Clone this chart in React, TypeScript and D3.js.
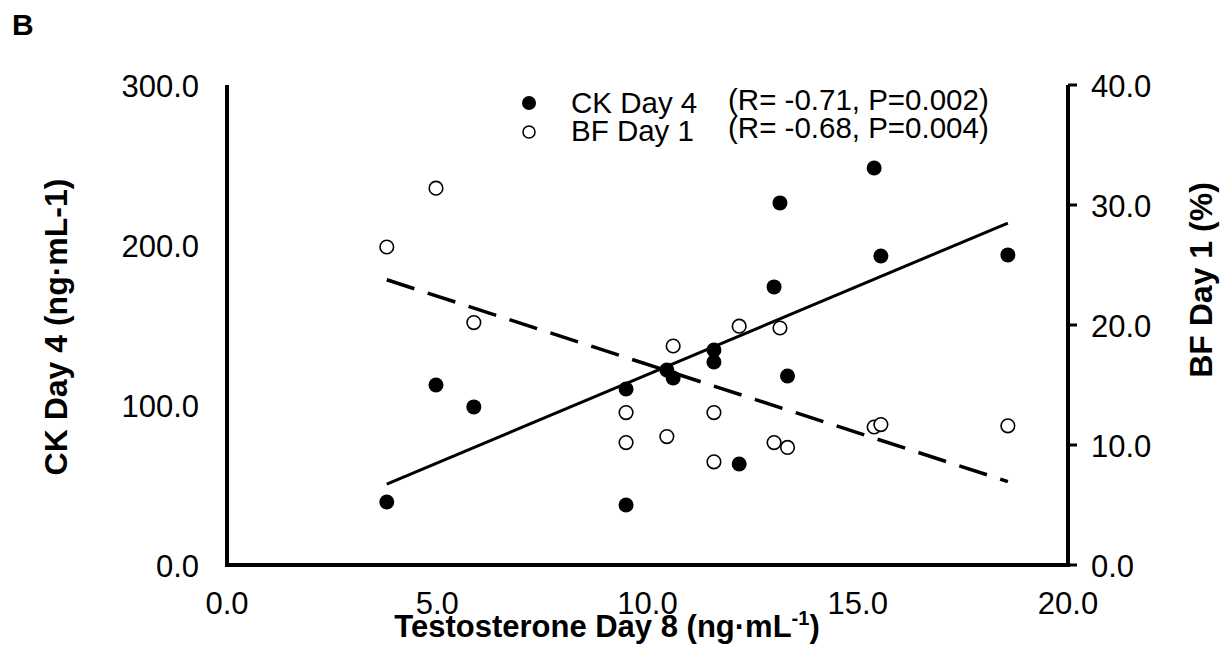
import React from "react";
import * as d3 from "d3";

// Testosterone on day 8 (ng·mL-1) for each subject
const testosterone = [3.8, 4.97, 5.87, 9.49, 9.49, 10.46, 10.61, 11.58, 11.58, 12.18, 13.01, 13.15, 13.33, 15.39, 15.55, 18.57];
// Creatine kinase on day 4 (ng·mL-1), same subject order
const ckDay4 = [39.4, 112.5, 98.8, 110, 37.5, 121.9, 116.9, 134.4, 126.9, 63.1, 173.8, 226.3, 118.1, 248.1, 193.1, 193.8];
// Body fat on day 1 (%), same subject order
const bfDay1 = [26.5, 31.4, 20.2, 12.7, 10.2, 10.7, 18.25, 12.7, 8.6, 19.9, 10.2, 19.75, 9.8, 11.5, 11.7, 11.6];

const xTicks = [0, 5, 10, 15, 20];
const yLeftTicks = [0, 100, 200, 300];
const yRightTicks = [0, 10, 20, 30, 40];

const legendItems = [
  { label: "CK Day 4", stats: "(R= -0.71, P=0.002)", filled: true },
  { label: "BF Day 1", stats: "(R= -0.68, P=0.004)", filled: false },
];

const W = 1229;
const H = 654;
const FONT = "Liberation Sans, Arial, Helvetica, sans-serif";

function fitLine(xs: number[], ys: number[]) {
  const mx = d3.mean(xs)!;
  const my = d3.mean(ys)!;
  const sxy = d3.sum(xs, (x, i) => (x - mx) * (ys[i] - my));
  const sxx = d3.sum(xs, (x) => (x - mx) * (x - mx));
  const slope = sxy / sxx;
  const intercept = my - slope * mx;
  const [x0, x1] = d3.extent(xs) as [number, number];
  return [
    [x0, intercept + slope * x0],
    [x1, intercept + slope * x1],
  ] as [number, number][];
}

export default function App() {
  const x = d3.scaleLinear().domain([0, 20]).range([227, 1068]);
  const yL = d3.scaleLinear().domain([0, 300]).range([565, 85]);
  const yR = d3.scaleLinear().domain([0, 40]).range([565, 85]);
  const fmt = d3.format(".1f");

  const ckFit = fitLine(testosterone, ckDay4);
  const bfFit = fitLine(testosterone, bfDay1);
  const lineL = d3.line<[number, number]>().x((d) => x(d[0])).y((d) => yL(d[1]));
  const lineR = d3.line<[number, number]>().x((d) => x(d[0])).y((d) => yR(d[1]));

  return (
    <svg
      width={W}
      height={H}
      style={{ position: "absolute", left: 0, top: 0, background: "#fff" }}
      fontFamily={FONT}
    >
      <rect width={W} height={H} fill="#fff" />
      <text x={12} y={35} fontSize={30} fontWeight="bold">B</text>

      {/* regression lines */}
      <path d={lineL(ckFit)!} stroke="#000" strokeWidth={3} fill="none" />
      <path d={lineR(bfFit)!} stroke="#000" strokeWidth={3.5} fill="none" strokeDasharray="29,14" />

      {/* body fat, open markers */}
      {testosterone.map((t, i) => (
        <circle key={"bf" + i} cx={x(t)} cy={yR(bfDay1[i])} r={6.8} fill="#fff" stroke="#000" strokeWidth={1.6} />
      ))}
      {/* creatine kinase, filled markers */}
      {testosterone.map((t, i) => (
        <circle key={"ck" + i} cx={x(t)} cy={yL(ckDay4[i])} r={7.5} fill="#000" />
      ))}

      {/* axes */}
      <line x1={x(0)} x2={x(0)} y1={yL(300)} y2={yL(0) + 2} stroke="#000" strokeWidth={4} />
      <line x1={x(20)} x2={x(20)} y1={yR(40)} y2={yR(0) + 2} stroke="#000" strokeWidth={4} />
      <line x1={x(0) - 2} x2={x(20) + 2} y1={yL(0)} y2={yL(0)} stroke="#000" strokeWidth={4} />
      {yRightTicks.map((t) => (
        <line key={"rt" + t} x1={x(20)} x2={x(20) + 9} y1={yR(t)} y2={yR(t)} stroke="#000" strokeWidth={3} />
      ))}

      {/* tick labels */}
      {yLeftTicks.map((t) => (
        <text key={"yl" + t} x={199} y={yL(t) + 12} fontSize={31} textAnchor="end">{fmt(t)}</text>
      ))}
      {yRightTicks.map((t) => (
        <text key={"yr" + t} x={1091} y={yR(t) + 12} fontSize={31}>{fmt(t)}</text>
      ))}
      {xTicks.map((t) => (
        <text key={"x" + t} x={x(t)} y={614} fontSize={31} textAnchor="middle">{fmt(t)}</text>
      ))}

      {/* axis titles */}
      <text x={607} y={637} fontSize={31} fontWeight="bold" textAnchor="middle">
        Testosterone Day 8 (ng·mL<tspan fontSize={20} dy={-12}>-1</tspan><tspan dy={12}>)</tspan>
      </text>
      <text transform="translate(67,327) rotate(-90)" fontSize={32} fontWeight="bold" textAnchor="middle">
        CK Day 4 (ng·mL-1)
      </text>
      <text transform="translate(1212,280) rotate(-90)" fontSize={32} fontWeight="bold" textAnchor="middle">
        BF Day 1 (%)
      </text>

      {/* legend */}
      {legendItems.map((d, i) => (
        <g key={d.label} transform={`translate(0, ${i * 28})`}>
          {d.filled ? (
            <circle cx={529} cy={103} r={7} fill="#000" />
          ) : (
            <circle cx={529} cy={104} r={6} fill="#fff" stroke="#000" strokeWidth={1.6} />
          )}
          <text x={571} y={113} fontSize={29.5}>{d.label}</text>
          <text x={728} y={110} fontSize={29.5}>{d.stats}</text>
        </g>
      ))}
    </svg>
  );
}
